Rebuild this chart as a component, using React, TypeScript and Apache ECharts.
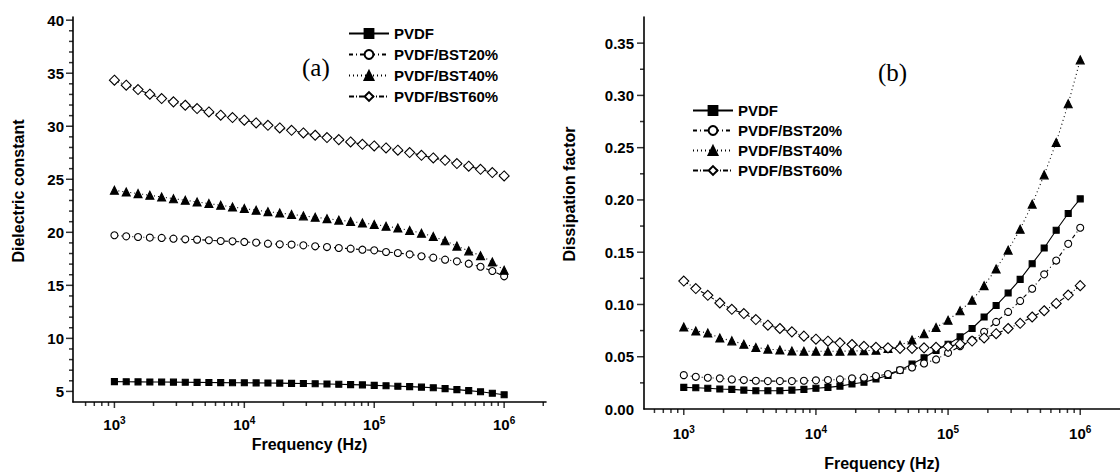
import React, { useEffect, useRef } from "react";
import * as echarts from "echarts";

// Measurement frequencies (Hz), 11 points per decade
const freq = [
  1000, 1233, 1520, 1874, 2310, 2848, 3511, 4329, 5337, 6579, 8111,
  10000, 12328, 15199, 18738, 23101, 28480, 35112, 43288, 53367, 65793, 81113,
  100000, 123285, 151991, 187382, 231013, 284804, 351119, 432876, 533670, 657933, 811131,
  1000000,
];

const seriesNames = ["PVDF", "PVDF/BST20%", "PVDF/BST40%", "PVDF/BST60%"];

// (a) Dielectric constant
const dkPVDF = [5.92, 5.91, 5.9, 5.89, 5.88, 5.87, 5.86, 5.85, 5.84, 5.83, 5.82, 5.81, 5.8, 5.79, 5.78, 5.76, 5.74, 5.72, 5.7, 5.67, 5.64, 5.61, 5.57, 5.53, 5.49, 5.45, 5.4, 5.34, 5.26, 5.17, 5.07, 4.96, 4.83, 4.68];
const dkBST20 = [19.72, 19.62, 19.56, 19.5, 19.47, 19.4, 19.34, 19.31, 19.25, 19.18, 19.15, 19.09, 19.03, 18.93, 18.87, 18.84, 18.77, 18.68, 18.61, 18.52, 18.46, 18.36, 18.3, 18.14, 18.05, 17.92, 17.74, 17.61, 17.42, 17.26, 17.04, 16.75, 16.35, 15.85];
const dkBST40 = [23.96, 23.8, 23.65, 23.49, 23.33, 23.17, 23.02, 22.86, 22.71, 22.55, 22.39, 22.24, 22.08, 21.95, 21.82, 21.69, 21.55, 21.42, 21.29, 21.15, 21.02, 20.88, 20.74, 20.58, 20.4, 20.18, 19.92, 19.6, 19.2, 18.7, 18.25, 17.8, 17.2, 16.42];
const dkBST60 = [34.34, 33.87, 33.46, 33.02, 32.61, 32.3, 31.98, 31.67, 31.35, 31.04, 30.82, 30.57, 30.31, 30.09, 29.84, 29.62, 29.37, 29.15, 28.93, 28.74, 28.52, 28.3, 28.14, 27.95, 27.74, 27.52, 27.26, 27.01, 26.79, 26.48, 26.23, 25.94, 25.63, 25.31];

// (b) Dissipation factor
const dfPVDF = [0.0207, 0.0203, 0.0198, 0.0191, 0.0188, 0.0181, 0.0175, 0.0175, 0.0175, 0.0181, 0.0188, 0.0198, 0.0207, 0.0219, 0.0239, 0.0256, 0.0288, 0.032, 0.037, 0.043, 0.049, 0.056, 0.062, 0.069, 0.077, 0.088, 0.099, 0.111, 0.124, 0.139, 0.154, 0.171, 0.187, 0.201];
const dfBST20 = [0.0324, 0.0308, 0.0299, 0.0293, 0.0283, 0.0277, 0.027, 0.0267, 0.0267, 0.0267, 0.027, 0.0274, 0.0277, 0.0283, 0.0293, 0.03, 0.0315, 0.0334, 0.0372, 0.0398, 0.0436, 0.0474, 0.0537, 0.06, 0.0658, 0.0738, 0.0833, 0.0929, 0.1034, 0.1151, 0.1288, 0.142, 0.158, 0.1734];
const dfBST40 = [0.0785, 0.0747, 0.0728, 0.068, 0.0652, 0.062, 0.0589, 0.0573, 0.0565, 0.0556, 0.0553, 0.0553, 0.0553, 0.0553, 0.0555, 0.0558, 0.0563, 0.058, 0.061, 0.066, 0.072, 0.078, 0.085, 0.094, 0.104, 0.118, 0.134, 0.152, 0.172, 0.196, 0.224, 0.255, 0.292, 0.334];
const dfBST60 = [0.1224, 0.1152, 0.1088, 0.1014, 0.0954, 0.0913, 0.0856, 0.0802, 0.077, 0.0738, 0.0697, 0.0668, 0.0649, 0.0633, 0.0617, 0.06, 0.059, 0.0585, 0.058, 0.058, 0.0585, 0.059, 0.06, 0.062, 0.065, 0.068, 0.072, 0.077, 0.082, 0.088, 0.094, 0.101, 0.109, 0.118];

// Axis tick values
const xMajorTicks = [1e3, 1e4, 1e5, 1e6];
const xMinorTicksA = [600, 700, 800, 900, 2e3, 3e3, 4e3, 5e3, 6e3, 7e3, 8e3, 9e3, 2e4, 3e4, 4e4, 5e4, 6e4, 7e4, 8e4, 9e4, 2e5, 3e5, 4e5, 5e5, 6e5, 7e5, 8e5, 9e5, 2e6];
const xMinorTicksB = [600, 700, 800, 900, 2e3, 3e3, 4e3, 5e3, 6e3, 7e3, 8e3, 9e3, 2e4, 3e4, 4e4, 5e4, 6e4, 7e4, 8e4, 9e4, 2e5, 3e5, 4e5, 5e5, 6e5, 7e5, 8e5, 9e5];
const yMajorTicksA = [5, 10, 15, 20, 25, 30, 35, 40];
const yMinorTicksA = [6, 7, 8, 9, 11, 12, 13, 14, 16, 17, 18, 19, 21, 22, 23, 24, 26, 27, 28, 29, 31, 32, 33, 34, 36, 37, 38, 39];
const yMajorTicksB = [0.05, 0.1, 0.15, 0.2, 0.25, 0.3, 0.35];
const yMinorTicksB = [0.025, 0.075, 0.125, 0.175, 0.225, 0.275, 0.325];

const X_MIN_A = 480, X_MAX_A = 2.1e6, Y_MIN_A = 4, Y_MAX_A = 40.3;
const X_MIN_B = 500, X_MAX_B = 2e6, Y_MIN_B = 0, Y_MAX_B = 0.375;

const FONT = "'Liberation Sans', Arial, sans-serif";
const SERIF = "'Liberation Serif', 'Times New Roman', serif";

const markStyles = [
  { symbol: "rect", size: 6, fill: "#000", dash: "solid" as any },
  { symbol: "circle", size: 7, fill: "#fff", dash: [4, 3, 1, 3] },
  { symbol: "triangle", size: 8, fill: "#000", dash: [1, 3] },
  { symbol: "diamond", size: 10, fill: "#fff", dash: [5, 2, 1, 2] },
];

function lineSeries(name: string, vals: number[], k: number, gi: number) {
  const s = markStyles[k];
  return {
    type: "line",
    name,
    xAxisIndex: gi,
    yAxisIndex: gi,
    data: freq.map((f, i) => [f, vals[i]]),
    symbol: s.symbol,
    symbolSize: s.size,
    showSymbol: true,
    itemStyle: { color: s.fill, borderColor: "#000", borderWidth: 1.1 },
    lineStyle: { color: "#000", width: 1.1, type: s.dash },
    emphasis: { disabled: true },
    z: 3 + k,
  };
}

// Axis tick marks: thin bar symbols placed through the axes' own scales
function tickSeries(name: string, gi: number, items: number[][], dir: "x" | "y", len: number) {
  return {
    type: "scatter",
    name,
    xAxisIndex: gi,
    yAxisIndex: gi,
    clip: false,
    data: items,
    symbol: "rect",
    symbolSize: dir === "x" ? [1.5, len] : [len, 1.5],
    symbolOffset: dir === "x" ? [0, len / 2] : [-len / 2, 0],
    itemStyle: { color: "#000" },
  };
}

const fmtX = (v: number) => {
  const e = Math.round(Math.log10(v));
  const p = Math.pow(10, e);
  if (Math.abs(v - p) / p > 1e-6) return "";
  return `{b|10}{s|${e}}`;
};

const xRich = {
  b: { fontSize: 15, fontWeight: "bold", fontFamily: FONT, color: "#000", verticalAlign: "bottom" },
  s: { fontSize: 10, fontWeight: "bold", fontFamily: FONT, color: "#000", verticalAlign: "bottom", padding: [0, 0, 7, 0] },
};

const axisLine = { show: true, onZero: false, lineStyle: { color: "#000", width: 1.6 } };
const nameStyle = { fontFamily: FONT, fontWeight: "bold", fontSize: 16, color: "#000" };
const tickLabel = { fontFamily: FONT, fontWeight: "bold", fontSize: 15, color: "#000" };

const legendBase = {
  orient: "vertical",
  itemWidth: 40,
  itemHeight: 11,
  data: seriesNames,
  selectedMode: false,
  textStyle: { fontFamily: FONT, fontWeight: "bold", fontSize: 15, color: "#000" },
};

export default function App() {
  const ref = useRef<HTMLDivElement>(null);
  useEffect(() => {
    const chart = echarts.init(ref.current!, null, { renderer: "svg" });
    const option: any = {
      animation: false,
      backgroundColor: "#fff",
      grid: [
        { left: 73, top: 17, width: 473, height: 385, outerBoundsMode: "none" },
        { left: 644, top: 17, width: 476, height: 392, outerBoundsMode: "none" },
      ],
      xAxis: [
        {
          type: "log",
          logBase: 10,
          gridIndex: 0,
          min: X_MIN_A,
          max: X_MAX_A,
          axisLine,
          axisTick: { show: false },
          minorTick: { show: false },
          splitLine: { show: false },
          axisLabel: { formatter: fmtX, rich: xRich, margin: 13 },
          name: "Frequency (Hz)",
          nameLocation: "middle",
          nameGap: 28,
          nameTextStyle: { ...nameStyle, verticalAlign: "top" },
        },
        {
          type: "log",
          logBase: 10,
          gridIndex: 1,
          min: X_MIN_B,
          max: X_MAX_B,
          axisLine,
          axisTick: { show: false },
          minorTick: { show: false },
          splitLine: { show: false },
          axisLabel: { formatter: fmtX, rich: xRich, margin: 15 },
          name: "Frequency (Hz)",
          nameLocation: "middle",
          nameGap: 46,
          nameTextStyle: { ...nameStyle, verticalAlign: "top" },
        },
      ],
      yAxis: [
        {
          type: "value",
          gridIndex: 0,
          min: Y_MIN_A,
          max: Y_MAX_A,
          splitNumber: 8,
          axisLine,
          axisTick: { show: false },
          minorTick: { show: false },
          splitLine: { show: false },
          axisLabel: {
            margin: 9,
            ...tickLabel,
            formatter: (v: number) => (Math.abs(v / 5 - Math.round(v / 5)) < 1e-6 ? String(v) : ""),
          },
          name: "Dielectric constant",
          nameLocation: "middle",
          nameGap: 47,
          nameTextStyle: { ...nameStyle, padding: [0, 0, 0, 37] },
        },
        {
          type: "value",
          gridIndex: 1,
          min: Y_MIN_B,
          max: Y_MAX_B,
          interval: 0.05,
          axisLine,
          axisTick: { show: false },
          minorTick: { show: false },
          splitLine: { show: false },
          axisLabel: {
            margin: 10,
            ...tickLabel,
            formatter: (v: number) =>
              Math.abs(v / 0.05 - Math.round(v / 0.05)) < 1e-6 && v <= 0.3500001 ? v.toFixed(2) : "",
          },
          name: "Dissipation factor",
          nameLocation: "middle",
          nameGap: 67,
          nameTextStyle: { ...nameStyle, padding: [0, 0, 0, 38] },
        },
      ],
      legend: [
        { ...legendBase, left: 343, top: 21, itemGap: 6 },
        { ...legendBase, left: 687, top: 98, itemGap: 5 },
      ],
      graphic: [
        {
          type: "text",
          x: 302,
          y: 67,
          style: { text: "(a)", fontFamily: SERIF, fontSize: 25, fill: "#000", align: "left", verticalAlign: "middle" },
        },
        {
          type: "text",
          x: 878,
          y: 72,
          style: { text: "(b)", fontFamily: SERIF, fontSize: 25, fill: "#000", align: "left", verticalAlign: "middle" },
        },
      ],
      series: [
        lineSeries(seriesNames[0], dkPVDF, 0, 0),
        lineSeries(seriesNames[1], dkBST20, 1, 0),
        lineSeries(seriesNames[2], dkBST40, 2, 0),
        lineSeries(seriesNames[3], dkBST60, 3, 0),
        lineSeries(seriesNames[0], dfPVDF, 0, 1),
        lineSeries(seriesNames[1], dfBST20, 1, 1),
        lineSeries(seriesNames[2], dfBST40, 2, 1),
        lineSeries(seriesNames[3], dfBST60, 3, 1),
        tickSeries("a-x-major-ticks", 0, xMajorTicks.map((v) => [v, Y_MIN_A]), "x", 6),
        tickSeries("a-x-minor-ticks", 0, xMinorTicksA.map((v) => [v, Y_MIN_A]), "x", 4),
        tickSeries("a-y-major-ticks", 0, yMajorTicksA.map((v) => [X_MIN_A, v]), "y", 7),
        tickSeries("a-y-minor-ticks", 0, yMinorTicksA.map((v) => [X_MIN_A, v]), "y", 4),
        tickSeries("b-x-major-ticks", 1, xMajorTicks.map((v) => [v, Y_MIN_B]), "x", 6),
        tickSeries("b-x-minor-ticks", 1, xMinorTicksB.map((v) => [v, Y_MIN_B]), "x", 4),
        tickSeries("b-y-major-ticks", 1, yMajorTicksB.map((v) => [X_MIN_B, v]), "y", 7),
        tickSeries("b-y-minor-ticks", 1, yMinorTicksB.map((v) => [X_MIN_B, v]), "y", 4),
      ],
    };
    chart.setOption(option);
    return () => chart.dispose();
  }, []);
  return (
    <div
      ref={ref}
      style={{ position: "absolute", left: 0, top: 0, width: 1120, height: 475, background: "#fff" }}
    />
  );
}
